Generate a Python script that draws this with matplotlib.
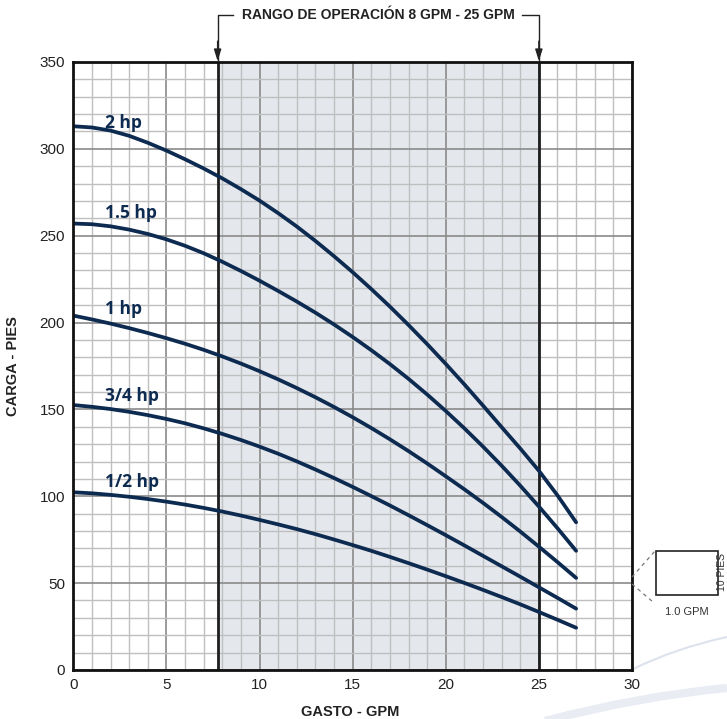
import numpy as np
import matplotlib
matplotlib.use("Agg")
import matplotlib.pyplot as plt
from matplotlib.ticker import MultipleLocator
from matplotlib.patches import Rectangle, PathPatch
from matplotlib.path import Path

# flow (GPM) and head (ft)
gpm = [0, 1, 2, 3, 4, 5, 6, 7, 8, 9, 10, 11, 12, 13, 14,
       15, 16, 17, 18, 19, 20, 21, 22, 23, 24, 25, 26, 27]

hp_2 = [313, 312.3, 310.5, 307.5, 303.5, 299, 294, 288.7, 283, 276.8, 270.2, 263, 255.3, 247, 238.2,
        229, 219.3, 209.2, 198.6, 187.6, 176.2, 164.4, 152.2, 139.8, 127.5, 114.7, 100.5, 85]
hp_15 = [257, 256.6, 255.4, 253.5, 251, 247.9, 244.2, 239.9, 235, 229.7, 224.1, 218.2, 212.1, 205.7, 198.9,
         191.7, 184.1, 176.1, 167.6, 158.6, 149.1, 139.1, 128.6, 117.6, 106.1, 94.1, 81.6, 68.6]
hp_1 = [204, 201.8, 199.4, 196.8, 194, 191, 187.8, 184.3, 180.5, 176.4, 172, 167.3, 162.3, 157, 151.4,
        145.5, 139.3, 132.8, 126, 118.9, 111.5, 104, 96.2, 88.1, 79.7, 71, 62.1, 53]
hp_34 = [152.5, 151.5, 150.2, 148.6, 146.7, 144.5, 142, 139.1, 135.9, 132.4, 128.6, 124.5, 120.1, 115.4, 110.5,
         105.4, 100.1, 94.7, 89.1, 83.4, 77.6, 71.7, 65.7, 59.7, 53.7, 47.6, 41.5, 35.3]
hp_12 = [102.3, 101.7, 100.8, 99.7, 98.4, 96.9, 95.2, 93.3, 91.2, 88.9, 86.4, 83.8, 81.1, 78.2, 75.1,
         71.9, 68.6, 65.1, 61.5, 57.8, 54, 50.1, 46.1, 42, 37.8, 33.4, 28.9, 24.3]

curves = [hp_2, hp_15, hp_1, hp_34, hp_12]
labels = ["2 hp", "1.5 hp", "1 hp", "3/4 hp", "1/2 hp"]
label_y = [315, 263, 208, 158, 108]

range_lo, range_hi = 7.75, 25

navy = "#0d2a50"

fig = plt.figure(figsize=(7.27, 7.19), dpi=100)

# faint background swooshes (figure pixels)
def swoosh(p0, p1, p2, lw, color):
    pts = [(x / 727, 1 - y / 719) for x, y in (p0, p1, p2)]
    path = Path(pts, [Path.MOVETO, Path.CURVE3, Path.CURVE3])
    fig.add_artist(PathPatch(path, transform=fig.transFigure, fill=False,
                             ec=color, lw=lw, zorder=0))

swoosh((633, 669), (676, 648), (727, 637), 1.5, "#dde3ec")
swoosh((545, 721), (640, 696), (727, 688), 6, "#e9edf3")

ax = fig.add_axes([0.1008, 0.0682, 0.7685, 0.8456])
ax.set_xlim(0, 30)
ax.set_ylim(0, 350)

# operating range shading
ax.axvspan(range_lo, range_hi, color="#e4e7ec", zorder=0.2, lw=0)

ax.xaxis.set_major_locator(MultipleLocator(5))
ax.xaxis.set_minor_locator(MultipleLocator(1))
ax.yaxis.set_major_locator(MultipleLocator(50))
ax.yaxis.set_minor_locator(MultipleLocator(10))
ax.set_axisbelow(True)
ax.grid(which="minor", color="#bfbfbf", lw=1.0)
ax.grid(which="major", color="#8a8a8a", lw=1.2)
ax.tick_params(which="both", length=0)
ax.tick_params(which="major", labelsize=11, pad=6)
for t in ax.get_xticklabels() + ax.get_yticklabels():
    t.set_fontfamily("Liberation Sans")
    t.set_color("#222222")

for x in (range_lo, range_hi):
    ax.axvline(x, color="#1e1e1e", lw=2, zorder=3)

for y, lab, ly in zip(curves, labels, label_y):
    ax.plot(gpm, y, color=navy, lw=2.7, solid_capstyle="round", solid_joinstyle="round", zorder=4)
    ax.text(1.7, ly, lab, color=navy, fontsize=12.5, fontweight="bold",
            family="Open Sans", va="center", ha="left", zorder=5)

for s in ax.spines.values():
    s.set_linewidth(2)
    s.set_color("#111111")
    s.set_zorder(6)

ax.set_xlabel("GASTO - GPM", fontsize=10.5, fontweight="bold", family="Liberation Sans", color="#222222")
ax.set_ylabel("CARGA - PIES", fontsize=10.5, fontweight="bold", family="Liberation Sans", color="#222222")
ax.xaxis.set_label_coords(0.495, -0.058)
ax.yaxis.set_label_coords(-0.095, 0.5)

# operating range bracket
top = 377
ax.text(16.38, top, "RANGO DE OPERACIÓN 8 GPM - 25 GPM", fontsize=10, fontweight="bold",
        family="Liberation Sans", color="#222222", ha="center", va="center", clip_on=False)
ax.plot([range_lo, range_lo, 8.6], [351, top, top], color="#222222", lw=1, clip_on=False)
ax.plot([24.1, range_hi, range_hi], [top, top, 351], color="#222222", lw=1, clip_on=False)
for x in (range_lo, range_hi):
    ax.annotate("", xy=(x, 350.5), xytext=(x, 362),
                arrowprops=dict(arrowstyle="-|>,head_length=0.7,head_width=0.22",
                                color="#222222", lw=1, shrinkA=0, shrinkB=0),
                annotation_clip=False)

# scale key: one grid cell
sq = Rectangle((656 / 727, 1 - 595 / 719), 62 / 727, 44 / 719, transform=fig.transFigure,
               fill=False, ec="#222222", lw=1.2)
fig.add_artist(sq)
fig.add_artist(plt.Line2D([632 / 727, 655 / 727], [1 - 577 / 719, 1 - 551 / 719],
                          transform=fig.transFigure, color="#777777", lw=0.9, ls=(0, (3, 3))))
fig.add_artist(plt.Line2D([632 / 727, 653 / 727], [1 - 584 / 719, 1 - 602 / 719],
                          transform=fig.transFigure, color="#777777", lw=0.9, ls=(0, (3, 3))))
fig.text(687 / 727, 1 - 612 / 719, "1.0 GPM", fontsize=8, family="Liberation Sans",
         color="#333333", ha="center", va="center")
fig.text(722 / 727, 1 - 572 / 719, "10 PIES", fontsize=7.5, family="Liberation Sans",
         color="#333333", ha="center", va="center", rotation=90)

fig.savefig("out.png", dpi=100)
